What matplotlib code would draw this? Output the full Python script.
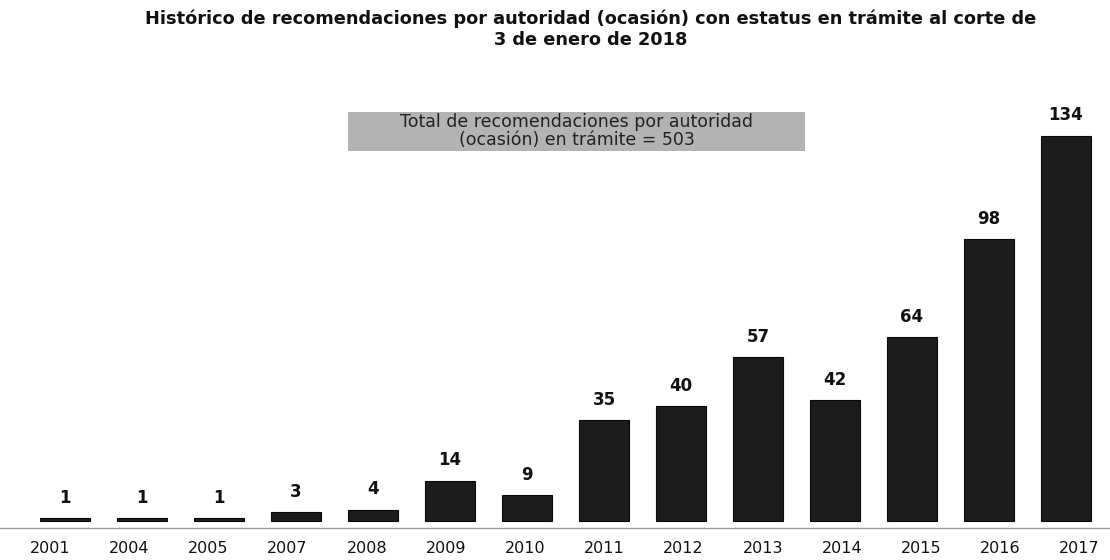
import matplotlib.pyplot as plt
from matplotlib.patches import Rectangle

years = ["2001", "2004", "2005", "2007", "2008", "2009", "2010",
         "2011", "2012", "2013", "2014", "2015", "2016", "2017"]
values = [1, 1, 1, 3, 4, 14, 9, 35, 40, 57, 42, 64, 98, 134]
total = 503

title = ("Histórico de recomendaciones por autoridad (ocasión) con estatus en trámite al corte de\n"
         "3 de enero de 2018")
box_text = f"Total de recomendaciones por autoridad\n(ocasión) en trámite = {total}"

fig = plt.figure(figsize=(11.1, 5.6), dpi=100)
ax = fig.add_axes([0.0, 0.0571, 1.0, 0.7643])

x = list(range(len(years)))
ax.bar(x, values, width=0.66, color="#1c1c1c", edgecolor="#0a0a0a", linewidth=0.8, zorder=3)

for xi, v in zip(x, values):
    ax.text(xi, v + 4, str(v), ha="center", va="bottom", fontsize=12,
            fontweight="bold", color="#111111")

# tick labels sit a little offset from the bars (perspective in original)
px_per_unit = 77.0
label_pos = [((50 + 79.2 * i) - 65) / px_per_unit for i in x]
ax.set_xticks(label_pos)
ax.set_xticklabels(years, fontsize=11.5, color="#111111")
ax.tick_params(axis="x", length=0, pad=9)
ax.set_yticks([])

ax.set_xlim(-65 / px_per_unit, (1110 - 65) / px_per_unit)
ax.set_ylim(-7 / 2.875, (521 - 100) / 2.875)

for s in ["top", "left", "right"]:
    ax.spines[s].set_visible(False)
ax.spines["bottom"].set_linestyle((0, (1, 1)))
ax.spines["bottom"].set_color("#999999")
ax.spines["bottom"].set_linewidth(1.0)

# summary box
fig.patches.append(Rectangle((348 / 1110, 1 - 151 / 560), 457 / 1110, 39 / 560,
                             transform=fig.transFigure, facecolor="#b3b3b3",
                             edgecolor="none", zorder=1))
fig.text(577 / 1110, 1 - 131 / 560, box_text, ha="center", va="center",
         fontsize=12.5, color="#222222", linespacing=1.0)

fig.text(591 / 1110, 1 - 29 / 560, title, ha="center", va="center",
         fontsize=12.8, fontweight="bold", color="#111111", linespacing=1.2)

fig.savefig("out.png", dpi=100)
